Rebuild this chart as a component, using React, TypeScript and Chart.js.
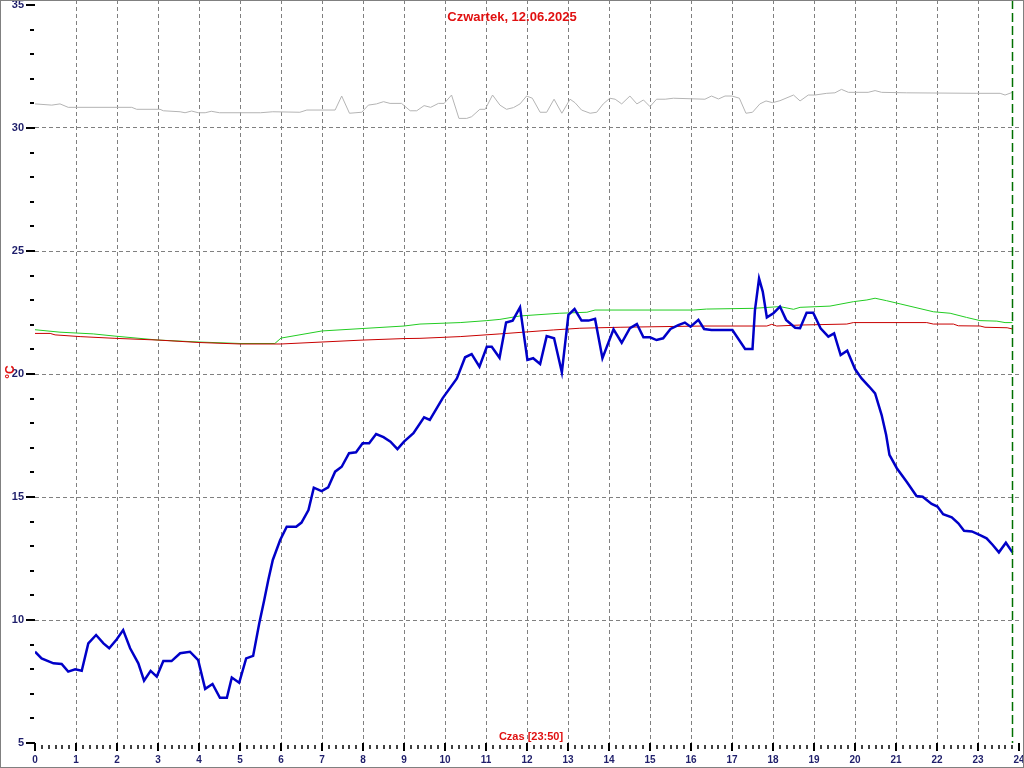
import React, { useEffect, useRef } from "react";
import { Chart, registerables } from "chart.js";
Chart.register(...registerables);

// ---- data (hours of day -> °C) ----
const titleText = "Czwartek, 12.06.2025";
const xAxisTitle = "Czas [23:50]";
const yAxisTitle = "°C";
const nowHour = 23 + 50 / 60;

const xTickLabels = Array.from({ length: 25 }, (_, i) => String(i));
const yTickLabels = ["5", "10", "15", "20", "25", "30", "35"];

const outsideTimes = [0, 0.16, 0.45, 0.65, 0.81, 0.98, 1.14, 1.3, 1.49, 1.67, 1.81, 1.99, 2.15, 2.32, 2.52, 2.66, 2.82, 2.97, 3.13, 3.33, 3.54, 3.78, 3.98, 4.15, 4.33, 4.51, 4.68, 4.8, 4.98, 5.15, 5.32, 5.47, 5.59, 5.69, 5.8, 5.98, 6.14, 6.37, 6.5, 6.67, 6.8, 6.99, 7.15, 7.32, 7.48, 7.66, 7.83, 7.99, 8.15, 8.32, 8.5, 8.67, 8.84, 9.0, 9.23, 9.49, 9.63, 9.8, 9.94, 10.29, 10.49, 10.65, 10.84, 11.02, 11.14, 11.33, 11.49, 11.65, 11.83, 12.01, 12.15, 12.32, 12.48, 12.66, 12.85, 13.01, 13.16, 13.33, 13.5, 13.66, 13.84, 14.11, 14.31, 14.51, 14.68, 14.84, 15.0, 15.16, 15.32, 15.5, 15.69, 15.85, 15.99, 16.18, 16.32, 16.5, 17.01, 17.32, 17.5, 17.56, 17.66, 17.75, 17.85, 18.01, 18.17, 18.32, 18.54, 18.66, 18.82, 18.98, 19.16, 19.35, 19.49, 19.65, 19.81, 20.0, 20.16, 20.35, 20.49, 20.65, 20.76, 20.84, 21.02, 21.26, 21.5, 21.65, 21.87, 22.01, 22.15, 22.36, 22.52, 22.66, 22.85, 23.05, 23.21, 23.36, 23.51, 23.68, 23.84];
const outsideValues = [8.71, 8.44, 8.24, 8.21, 7.9, 8.0, 7.94, 9.05, 9.39, 9.05, 8.85, 9.21, 9.59, 8.85, 8.24, 7.53, 7.93, 7.7, 8.33, 8.33, 8.65, 8.71, 8.37, 7.2, 7.4, 6.84, 6.84, 7.66, 7.45, 8.44, 8.54, 9.87, 10.8, 11.63, 12.44, 13.25, 13.79, 13.79, 13.96, 14.47, 15.38, 15.24, 15.39, 16.03, 16.23, 16.78, 16.82, 17.18, 17.18, 17.56, 17.43, 17.25, 16.95, 17.25, 17.59, 18.24, 18.13, 18.61, 19.01, 19.82, 20.68, 20.81, 20.3, 21.11, 21.11, 20.66, 22.09, 22.17, 22.71, 20.57, 20.64, 20.41, 21.54, 21.45, 20.07, 22.4, 22.64, 22.17, 22.17, 22.24, 20.64, 21.82, 21.27, 21.86, 22.03, 21.49, 21.49, 21.38, 21.45, 21.83, 21.99, 22.09, 21.92, 22.2, 21.83, 21.79, 21.79, 21.02, 21.02, 22.6, 23.88, 23.35, 22.3, 22.47, 22.74, 22.2, 21.88, 21.86, 22.49, 22.49, 21.86, 21.52, 21.65, 20.77, 20.95, 20.2, 19.82, 19.48, 19.21, 18.33, 17.52, 16.71, 16.17, 15.62, 15.04, 15.01, 14.72, 14.61, 14.3, 14.17, 13.93, 13.63, 13.6, 13.45, 13.32, 13.05, 12.75, 13.14, 12.75];

const grayTimes = [0, 0.41, 0.61, 0.81, 2.36, 2.48, 3.05, 3.13, 3.54, 3.66, 3.82, 3.98, 4.15, 4.3, 4.5, 5.5, 5.8, 6.46, 6.63, 7.32, 7.48, 7.67, 7.97, 8.13, 8.33, 8.5, 8.66, 8.94, 9.15, 9.31, 9.49, 9.65, 9.84, 9.98, 10.16, 10.34, 10.53, 10.65, 10.85, 10.98, 11.16, 11.34, 11.5, 11.67, 11.83, 11.99, 12.13, 12.32, 12.48, 12.66, 12.85, 13.05, 13.17, 13.33, 13.54, 13.7, 13.86, 14.02, 14.15, 14.31, 14.51, 14.68, 14.84, 15.0, 15.16, 15.37, 15.57, 16.34, 16.5, 16.67, 16.83, 17.0, 17.18, 17.34, 17.5, 17.68, 17.83, 17.99, 18.17, 18.5, 18.66, 18.86, 19.02, 19.31, 19.51, 19.67, 19.84, 20.32, 20.49, 20.65, 21.26, 22.97, 23.54, 23.66, 23.84];
const grayValues = [30.98, 30.93, 30.98, 30.84, 30.84, 30.76, 30.76, 30.7, 30.66, 30.62, 30.69, 30.62, 30.62, 30.68, 30.62, 30.62, 30.66, 30.64, 30.73, 30.73, 31.3, 30.6, 30.64, 30.93, 30.98, 31.07, 31.0, 31.0, 30.7, 30.7, 30.91, 30.84, 31.0, 31.0, 31.34, 30.39, 30.39, 30.46, 30.76, 30.76, 31.34, 30.93, 30.76, 30.83, 30.98, 31.3, 31.21, 30.64, 30.64, 31.17, 30.6, 31.17, 31.03, 30.73, 30.6, 30.64, 30.98, 31.21, 31.17, 30.98, 31.3, 30.98, 31.14, 30.87, 31.17, 31.17, 31.21, 31.17, 31.3, 31.18, 31.3, 31.3, 31.21, 30.6, 30.64, 30.98, 31.1, 31.03, 31.11, 31.34, 31.1, 31.34, 31.34, 31.41, 31.43, 31.57, 31.45, 31.45, 31.52, 31.45, 31.43, 31.41, 31.41, 31.34, 31.45];

const greenTimes = [0, 0.61, 1.42, 1.95, 3, 4, 5, 5.85, 6, 7, 8, 9, 9.39, 10.37, 11.02, 11.34, 11.83, 12.8, 13.46, 13.66, 16.06, 16.38, 17.52, 18.17, 18.5, 18.66, 19.39, 19.96, 20.29, 20.49, 20.77, 21.1, 21.91, 22.32, 22.72, 23.05, 23.46, 23.66, 23.84];
const greenValues = [21.8, 21.7, 21.63, 21.54, 21.38, 21.3, 21.24, 21.24, 21.46, 21.75, 21.85, 21.95, 22.03, 22.09, 22.17, 22.22, 22.36, 22.47, 22.51, 22.6, 22.6, 22.64, 22.67, 22.74, 22.63, 22.71, 22.76, 22.94, 23.01, 23.08, 22.98, 22.85, 22.53, 22.47, 22.3, 22.17, 22.15, 22.09, 22.09];

const redTimes = [0, 0.37, 0.49, 1.1, 1.95, 3, 4, 5, 6, 7, 8, 9, 9.39, 10.37, 11.34, 12.64, 13.29, 14.27, 16.3, 17.85, 17.97, 18.09, 18.66, 19.8, 19.96, 21.75, 21.91, 22.4, 22.52, 23.05, 23.17, 23.71, 23.84];
const redValues = [21.65, 21.65, 21.59, 21.52, 21.45, 21.38, 21.28, 21.22, 21.22, 21.3, 21.38, 21.44, 21.45, 21.52, 21.63, 21.79, 21.86, 21.9, 21.95, 21.95, 22.02, 21.95, 21.99, 22.03, 22.09, 22.09, 22.03, 22.03, 21.96, 21.95, 21.9, 21.88, 21.83];

const toPoints = (xs: number[], ys: number[]) => xs.map((x, i) => ({ x, y: ys[i] }));

const FONT = "'Liberation Sans', Arial, sans-serif";
const NAVY = "#1f1f6b";
const RED = "#e01010";

const decorPlugin = {
  id: "decor",
  beforeDatasetsDraw(chart: any) {
    const { ctx, chartArea, scales } = chart;
    const xs = scales.x;
    ctx.save();
    ctx.strokeStyle = "#808080";
    ctx.lineWidth = 1;
    ctx.setLineDash([4, 3]);
    for (let h = 1; h <= 23; h++) {
      const px = Math.round(xs.getPixelForValue(h)) + 0.5;
      ctx.beginPath();
      ctx.moveTo(px, 0);
      ctx.lineTo(px, chartArea.bottom);
      ctx.stroke();
    }
    ctx.restore();
  },
  afterDraw(chart: any) {
    const { ctx, chartArea, scales, width, height } = chart;
    const xs = scales.x;
    const ys = scales.y;
    ctx.save();
    ctx.setLineDash([]);
    ctx.strokeStyle = "#000";
    // y ticks
    for (let v = 5; v <= 35; v++) {
      const py = Math.round(ys.getPixelForValue(v));
      ctx.beginPath();
      if (v % 5 === 0) {
        ctx.lineWidth = 2;
        ctx.moveTo(chartArea.left - 9, py);
        ctx.lineTo(chartArea.left, py);
      } else {
        ctx.lineWidth = 2;
        ctx.moveTo(chartArea.left - 5, py);
        ctx.lineTo(chartArea.left - 1, py);
      }
      ctx.stroke();
    }
    // x ticks every 10 minutes
    for (let i = 0; i <= 144; i++) {
      const px = Math.round(xs.getPixelForValue(i / 6));
      ctx.beginPath();
      if (i % 6 === 0) {
        ctx.lineWidth = 2;
        ctx.moveTo(px, chartArea.bottom);
        ctx.lineTo(px, chartArea.bottom + 8);
      } else {
        ctx.lineWidth = 1.5;
        ctx.moveTo(px, chartArea.bottom + 2);
        ctx.lineTo(px, chartArea.bottom + 6);
      }
      ctx.stroke();
    }
    // current time marker
    const nx = Math.round(xs.getPixelForValue(nowHour)) + 0.5;
    ctx.strokeStyle = "#007000";
    ctx.lineWidth = 1.5;
    ctx.setLineDash([9, 4]);
    ctx.beginPath();
    ctx.moveTo(nx, 0);
    ctx.lineTo(nx, chartArea.bottom);
    ctx.stroke();
    ctx.setLineDash([]);
    // texts
    ctx.fillStyle = RED;
    ctx.textAlign = "center";
    ctx.textBaseline = "middle";
    ctx.font = `bold 13px ${FONT}`;
    ctx.fillText(titleText, 512, 17);
    ctx.font = `bold 11px ${FONT}`;
    ctx.fillText(xAxisTitle, 531, 737);
    ctx.save();
    ctx.translate(11, 372);
    ctx.rotate(-Math.PI / 2);
    ctx.font = `bold 12px ${FONT}`;
    ctx.fillText(yAxisTitle, 0, 0);
    ctx.restore();
    // frame
    ctx.strokeStyle = "#808080";
    ctx.lineWidth = 1;
    ctx.strokeRect(0.5, 0.5, width - 1, height - 1);
    ctx.restore();
  },
};

export default function App() {
  const ref = useRef<HTMLCanvasElement>(null);
  useEffect(() => {
    document.body.style.margin = "0";
    const canvas = ref.current!;
    const chart = new Chart(canvas, {
      type: "line",
      data: {
        datasets: [
          { label: "outside", data: toPoints(outsideTimes, outsideValues), borderColor: "#0000c8", borderWidth: 2.5, pointRadius: 0, tension: 0 },
          { label: "red", data: toPoints(redTimes, redValues), borderColor: "#c80000", borderWidth: 1, pointRadius: 0, tension: 0 },
          { label: "green", data: toPoints(greenTimes, greenValues), borderColor: "#22cc22", borderWidth: 1, pointRadius: 0, tension: 0 },
          { label: "gray", data: toPoints(grayTimes, grayValues), borderColor: "#b4b4b4", borderWidth: 1, pointRadius: 0, tension: 0 },
        ],
      },
      options: {
        animation: false,
        responsive: false,
        devicePixelRatio: 1,
        layout: { padding: { top: 5, right: 5, left: 0, bottom: 0 } },
        plugins: { legend: { display: false }, tooltip: { enabled: false }, title: { display: false } },
        scales: {
          x: {
            type: "linear",
            min: 0,
            max: 24,
            afterFit: (s: any) => {
              s.height = 25;
              s.paddingLeft = 0;
              s.paddingRight = 0;
            },
            ticks: {
              stepSize: 1,
              autoSkip: false,
              maxRotation: 0,
              padding: 11,
              color: NAVY,
              font: { family: FONT, size: 10, weight: "bold" },
              callback: (v: any) => xTickLabels[Number(v)] ?? "",
            },
            grid: { display: false, drawTicks: false },
            border: { display: false },
          },
          y: {
            type: "linear",
            min: 5,
            max: 35,
            afterFit: (s: any) => {
              s.width = 35;
              s.paddingTop = 0;
              s.paddingBottom = 0;
            },
            ticks: {
              stepSize: 1,
              autoSkip: false,
              padding: 11,
              color: NAVY,
              font: { family: FONT, size: 11, weight: "bold" },
              callback: (v: any) => (Number(v) % 5 === 0 ? yTickLabels[(Number(v) - 5) / 5] : ""),
            },
            grid: {
              drawTicks: false,
              lineWidth: 1,
              color: (c: any) => {
                const v = c.tick ? c.tick.value : NaN;
                return v % 5 === 0 && v > 5 && v < 35 ? "#808080" : "rgba(0,0,0,0)";
              },
            },
            border: { display: false, dash: [4, 3] },
          },
        },
      },
      plugins: [decorPlugin],
    });
    return () => chart.destroy();
  }, []);
  return <canvas ref={ref} width={1024} height={768} style={{ display: "block", width: 1024, height: 768 }} />;
}
